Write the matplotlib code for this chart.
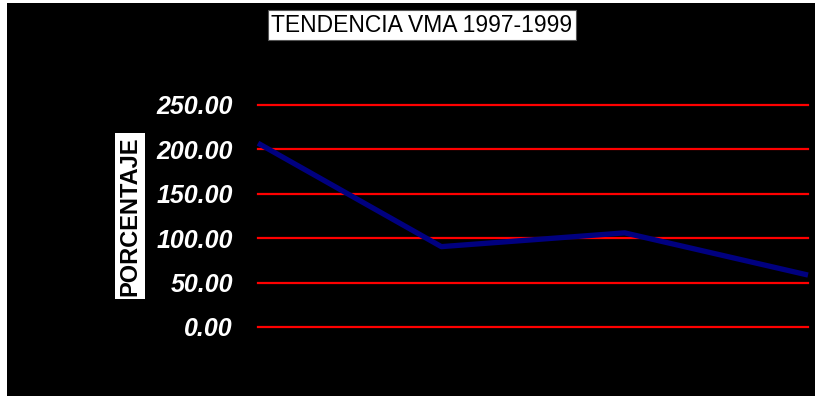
import matplotlib
matplotlib.use("Agg")
import matplotlib.pyplot as plt
from matplotlib.patches import Rectangle

# data
points = [0, 1, 2, 3]
vma_pct = [207.0, 90.5, 106.0, 58.5]
y_ticks = [0, 50, 100, 150, 200, 250]

title = "TENDENCIA VMA 1997-1999"
y_label = "PORCENTAJE"

fonts = ['Liberation Sans', 'DejaVu Sans']
plt.rcParams['font.family'] = fonts

fig = plt.figure(figsize=(8.15, 4.0), dpi=100, facecolor='white')

# black chart area with thin white border
fig.patches.append(Rectangle((7 / 815, 4 / 400), 808 / 815, 393 / 400,
                             transform=fig.transFigure, facecolor='black',
                             edgecolor='none', zorder=-5))

ax = fig.add_axes([258 / 815, 1 - 327 / 400, 550 / 815, 222 / 400])
ax.set_zorder(2)
ax.set_facecolor('none')
ax.plot(points, vma_pct, color='#000080', linewidth=3.8, solid_capstyle='butt',
        clip_on=False, zorder=3)

ax.set_xlim(points[0], points[-1])
ax.set_ylim(0, 250)
ax.set_yticks(y_ticks)
ax.set_yticklabels([f"{v:.2f}" for v in y_ticks], color='white',
                   fontsize=18, fontweight='bold', fontstyle='italic')
ax.tick_params(axis='y', length=0, pad=18)
ax.set_xticks([])
for s in ax.spines.values():
    s.set_visible(False)
for v in y_ticks:
    ax.axhline(v, color='#ff0000', linewidth=1.6, zorder=1, clip_on=False)

fig.text(422 / 815, 1 - 25 / 400, title, ha='center', va='center',
         fontsize=16.5, color='black', zorder=3,
         bbox=dict(facecolor='white', edgecolor='#555555', linewidth=0.8,
                   boxstyle='square,pad=0.15'))

fig.text(130 / 815, 1 - 216 / 400, y_label, ha='center', va='center',
         rotation=90, fontsize=17, fontweight='bold', color='black', zorder=3,
         bbox=dict(facecolor='white', edgecolor='none',
                   boxstyle='square,pad=0.14'))

fig.savefig("out.png", dpi=100, facecolor='white')
